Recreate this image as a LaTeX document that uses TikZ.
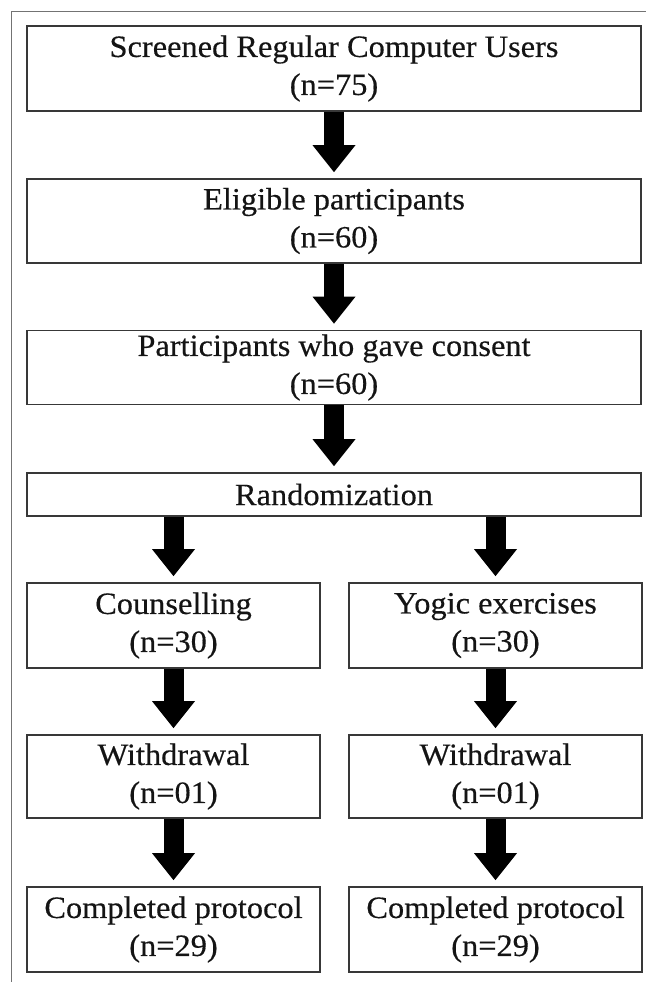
\documentclass[tikz,border=0pt]{standalone}
\usepackage{fontspec}
\setmainfont{Liberation Serif}[FakeStretch=1.045, FakeBold=0.4]
\usetikzlibrary{positioning,arrows.meta}

\begin{document}
\begin{tikzpicture}[x=1pt, y=-1pt,
    every node/.style={draw=black!78, line width=1.7pt, align=center, inner sep=0pt,
      text=black!92, font=\fontsize{31}{38}\selectfont},
    fatarrow/.style={line width=20pt, -{Triangle[width=43pt,length=27pt,line width=0pt]}, shorten >=6pt}]
    \useasboundingbox (0,0) rectangle (646,982);
    % thin frame along top and left edge
    \draw[black!55, line width=0.9pt] (11,982) -- (11,11) -- (646,11);

    % full-width boxes
    \node (screen) at (334,68.5)  [minimum width=614pt, minimum height=85pt] {Screened Regular Computer Users\\(n=75)};
    \node (elig)   at (334,221)   [minimum width=614pt, minimum height=84pt] {Eligible participants\\(n=60)};
    \node (consent) at (334,367.5) [minimum width=614pt, minimum height=74pt] {Participants who gave consent\\(n=60)};
    \node (rand)   at (334,494.5) [minimum width=614pt, minimum height=43pt] {Randomization};

    % two arms
    \node (couns)  at (173.5,625.5) [minimum width=293pt, minimum height=85pt] {Counselling\\(n=30)};
    \node (yogic)  at (495.5,625.5) [minimum width=293pt, minimum height=85pt] {Yogic exercises\\(n=30)};
    \node (wdA)    at (173.5,776.5) [minimum width=293pt, minimum height=83pt] {Withdrawal\\(n=01)};
    \node (wdB)    at (495.5,776.5) [minimum width=293pt, minimum height=83pt] {Withdrawal\\(n=01)};
    \node (compA)  at (173.5,929.5) [minimum width=293pt, minimum height=85pt] {Completed protocol\\(n=29)};
    \node (compB)  at (495.5,929.5) [minimum width=293pt, minimum height=85pt] {Completed protocol\\(n=29)};

    % block arrows
    \draw[fatarrow] (screen.south) -- (elig.north);
    \draw[fatarrow] (elig.south) -- (consent.north);
    \draw[fatarrow] (consent.south) -- (rand.north);
    \draw[fatarrow] (couns.north |- rand.south) -- (couns.north);
    \draw[fatarrow] (yogic.north |- rand.south) -- (yogic.north);
    \draw[fatarrow] (couns.south) -- (wdA.north);
    \draw[fatarrow] (yogic.south) -- (wdB.north);
    \draw[fatarrow] (wdA.south) -- (compA.north);
    \draw[fatarrow] (wdB.south) -- (compB.north);
  \end{tikzpicture}
\end{document}
